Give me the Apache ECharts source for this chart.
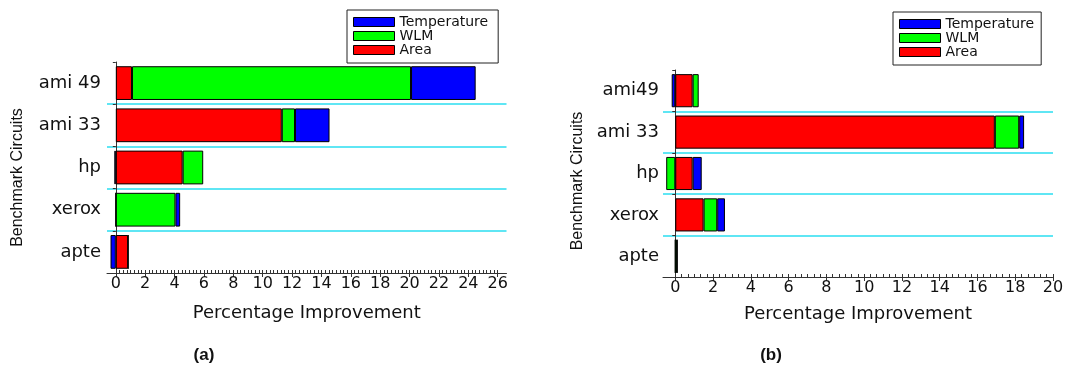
<!DOCTYPE html>
<html>
<head>
<meta charset="utf-8">
<script src="https://cdn.jsdelivr.net/npm/echarts@6/dist/echarts.min.js"></script>
<style>
html,body{margin:0;padding:0;background:#fff;}
#c{width:1067px;height:366px;}
</style>
</head>
<body>
<div id="c"></div>
<script>
// ---- data (categories listed top to bottom) ----
const categoriesA = ['ami 49', 'ami 33', 'hp', 'xerox', 'apte'];
const areaA = [1.1, 11.3, 4.55, 0, 0.84];
const wlmA  = [19.0, 0.9, 1.4, 4.06, 0];
const tempA = [4.4, 2.35, -0.1, 0.32, -0.36];

const categoriesB = ['ami49', 'ami 33', 'hp', 'xerox', 'apte'];
const areaB = [0.92, 16.92, 0.92, 1.5, 0];
const wlmB  = [0.32, 1.29, -0.48, 0.72, 0.1];
const tempB = [-0.19, 0.26, 0.48, 0.41, 0];

const tickLabelsA = [0, 2, 4, 6, 8, 10, 12, 14, 16, 18, 20, 22, 24, 26];
const tickLabelsB = [0, 2, 4, 6, 8, 10, 12, 14, 16, 18, 20];
const seriesNames = ['Temperature', 'WLM', 'Area'];

// ---- styling ----
const COLORS = {Area: '#ff0000', WLM: '#00ff00', Temperature: '#0000ff'};
const AX = '#333';
const TXT = '#111';
const DV = 'DejaVu Sans';

function minorTicks(lo, hi, step) {
  const out = [];
  for (let v = lo; v <= hi + 1e-9; v += step) out.push(+v.toFixed(4));
  return out;
}

function xAxes(grid, min, max, labels, minorStep, nameGap) {
  return [{
    type: 'value', gridIndex: grid, min: min, max: max, position: 'bottom',
    name: 'Percentage Improvement', nameLocation: 'middle', nameGap: nameGap, nameMoveOverlap: false,
    nameTextStyle: {fontFamily: DV, fontSize: 18, color: TXT},
    axisLine: {show: true, onZero: false, lineStyle: {color: AX, width: 1}},
    axisTick: {show: true, customValues: labels, length: 4, lineStyle: {color: AX}},
    axisLabel: {show: true, customValues: labels, margin: 3, fontFamily: DV, fontSize: 16, color: TXT},
    splitLine: {show: false}
  }, {
    type: 'value', gridIndex: grid, min: min, max: max, position: 'bottom',
    axisLine: {show: false, onZero: false},
    axisTick: {show: true, inside: true, customValues: minorTicks(0, labels[labels.length - 1], minorStep), length: 3, lineStyle: {color: AX}},
    axisLabel: {show: false},
    splitLine: {show: false}
  }];
}

function yAxis(grid, cats, margin, gap, pad) {
  return {
    type: 'category', gridIndex: grid, data: cats, inverse: true,
    name: 'Benchmark Circuits', nameLocation: 'middle', nameGap: gap, nameMoveOverlap: false,
    nameTextStyle: {fontFamily: 'Liberation Sans', fontSize: 16, color: TXT, padding: [0, pad, 0, 0]},
    axisLine: {show: true, onZero: true, onZeroAxisIndex: grid * 2, lineStyle: {color: AX, width: 1}},
    axisTick: {show: true, length: 3, lineStyle: {color: AX}},
    axisLabel: {margin: margin, fontFamily: DV, fontSize: 18, color: TXT},
    splitLine: {show: true, showMinLine: false, showMaxLine: false, lineStyle: {color: '#5fe6f4', width: 2}}
  };
}

function bar(name, data, xi, yi, stack) {
  return {
    type: 'bar', name: name, data: data, xAxisIndex: xi, yAxisIndex: yi,
    stack: stack, barCategoryGap: '20%',
    itemStyle: {color: COLORS[name], borderColor: '#000', borderWidth: 1},
    emphasis: {disabled: true}
  };
}

function legend(left, top, pad) {
  return {
    data: seriesNames, orient: 'vertical', left: left, top: top,
    itemWidth: 41, itemHeight: 9, itemGap: 0,
    padding: pad, borderColor: '#222', borderWidth: 1, backgroundColor: '#fff',
    icon: 'rect',
    itemStyle: {borderColor: '#000', borderWidth: 1},
    textStyle: {fontFamily: DV, fontSize: 14, color: TXT, lineHeight: 14},
    selectedMode: false
  };
}

const chart = echarts.init(document.getElementById('c'), null, {renderer: 'canvas'});
chart.setOption({
  backgroundColor: '#fff',
  animation: false,
  grid: [
    {left: 107, right: 560.5, top: 62, bottom: 93, containLabel: false, outerBoundsMode: 'none'},
    {left: 663, right: 14, top: 70, bottom: 89, containLabel: false, outerBoundsMode: 'none'}
  ],
  xAxis: [].concat(
    xAxes(0, -0.6, 26.6, tickLabelsA, 0.25, 31),
    xAxes(1, -0.65, 20, tickLabelsB, 1 / 3, 28)
  ),
  yAxis: [yAxis(0, categoriesA, 6, 81, 20), yAxis(1, categoriesB, 4, 77, 15)],
  legend: [legend(347, 10, [5, 10, 6, 6]), legend(893, 12, [5, 7, 6, 6])],
  series: [
    bar('Area', areaA, 0, 0, 'a'),
    bar('WLM', wlmA, 0, 0, 'a'),
    bar('Temperature', tempA, 0, 0, 'a'),
    bar('Area', areaB, 2, 1, 'b'),
    bar('WLM', wlmB, 2, 1, 'b'),
    bar('Temperature', tempB, 2, 1, 'b')
  ],
  graphic: [
    {type: 'text', x: 204, y: 355, style: {text: '(a)', font: 'bold 17px "Liberation Sans"', fill: TXT, align: 'center', verticalAlign: 'middle'}},
    {type: 'text', x: 771, y: 355, style: {text: '(b)', font: 'bold 17px "Liberation Sans"', fill: TXT, align: 'center', verticalAlign: 'middle'}}
  ]
});
</script>
</body>
</html>
